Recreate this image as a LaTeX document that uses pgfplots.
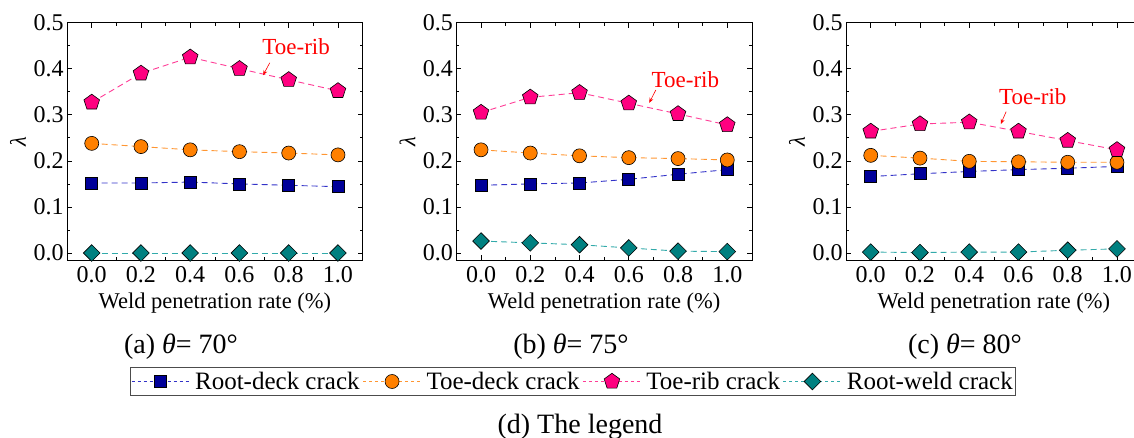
\documentclass[border=0pt]{standalone}
\usepackage{fontspec}
\setmainfont{Liberation Serif}
\usepackage{pgfplots}
\pgfplotsset{compat=1.18}
\usetikzlibrary{arrows.meta}
\definecolor{rdfill}{RGB}{0,0,153}
\definecolor{rdline}{RGB}{50,50,200}
\definecolor{tdfill}{RGB}{255,128,0}
\definecolor{tdline}{RGB}{255,150,50}
\definecolor{trfill}{RGB}{255,0,128}
\definecolor{trline}{RGB}{255,60,150}
\definecolor{rwfill}{RGB}{0,128,128}
\definecolor{rwline}{RGB}{50,170,170}
\pgfplotsset{
 panel/.style={
  scale only axis, width=295.5pt, height=237.3pt,
  xmin=-0.1,xmax=1.1,ymin=-0.0152,ymax=0.5,
  xtick={0,0.2,0.4,0.6,0.8,1.0}, ytick={0,0.1,0.2,0.3,0.4,0.5},
  minor x tick num=1, minor y tick num=1,
  tick align=inside, major tick length=5pt, minor tick length=3pt,
  tick style={black, line width=0.7pt},
  axis line style={line width=0.8pt},
  /pgf/number format/assume math mode=true,
  xticklabel style={/pgf/number format/.cd, fixed, fixed zerofill, precision=1, /tikz/.cd, yshift=-3pt},
  yticklabel style={/pgf/number format/.cd, fixed, fixed zerofill, precision=1},
  tick label style={font=\rmfamily\fontsize{24}{28}\selectfont},
  label style={font=\rmfamily\fontsize{22.5}{27}\selectfont},
  xlabel={Weld penetration rate (\%)},
  ylabel={\textit{λ}},
  xlabel style={at={(axis description cs:0.5,-0.181)}, anchor=center},
  ylabel style={at={(axis description cs:-0.166,0.5)}, anchor=center},
  every axis plot/.append style={line width=0.9pt, dash pattern=on 6pt off 4pt},
  legend image code/.code={\draw[mark repeat=2, mark phase=2, #1, dash pattern=on 3pt off 3pt] plot coordinates {(0pt,0pt) (29pt,0pt) (58pt,0pt)};},
 },
 rd/.style={color=rdline, mark=square*, mark size=6pt, mark options={solid, fill=rdfill, draw=black, line width=0.6pt}},
 td/.style={color=tdline, mark=*, mark size=7pt, mark options={solid, fill=tdfill, draw=black, line width=0.6pt}},
 tr/.style={color=trline, mark=pentagon*, mark size=8.2pt, mark options={solid, fill=trfill, draw=black, line width=0.6pt}},
 rw/.style={color=rwline, mark=square*, mark size=5.9pt, mark options={solid, rotate=45, fill=rwfill, draw=black, line width=0.6pt}},
}
\newcommand{\annot}[6]{%
 \node[red, font=\rmfamily\fontsize{23}{27}\selectfont] at (axis cs:#1,#2) {Toe-rib};
 \draw[red, line width=0.6pt, -{Stealth[length=5pt,width=4pt]}] (axis cs:#3,#4) -- (axis cs:#5,#6);}
\begin{document}
\begin{tikzpicture}
% (a)
\begin{axis}[panel, at={(67.1pt,-260pt)}, anchor=south west]
\addplot[rd] coordinates {(0,0.152) (0.2,0.152) (0.4,0.154) (0.6,0.150) (0.8,0.147) (1.0,0.144)};
\addplot[td] coordinates {(0,0.238) (0.2,0.231) (0.4,0.224) (0.6,0.220) (0.8,0.217) (1.0,0.213)};
\addplot[tr] coordinates {(0,0.327) (0.2,0.390) (0.4,0.425) (0.6,0.400) (0.8,0.376) (1.0,0.352)};
\addplot[rw] coordinates {(0,0.000) (0.2,0.000) (0.4,0.000) (0.6,0.000) (0.8,0.000) (1.0,0.000)};
\annot{0.83}{0.447}{0.723}{0.413}{0.696}{0.386}
\end{axis}
% (b)
\begin{axis}[panel, at={(456.4pt,-260pt)}, anchor=south west,
  legend columns=4,
  legend style={at={(axis description cs:0.3946,-0.512)}, anchor=center, draw=black!70, line width=0.8pt,
    font=\rmfamily\fontsize{25}{29}\selectfont, inner xsep=1pt, inner ysep=2.5pt,
    nodes={inner sep=2pt},
    /tikz/every even column/.append style={column sep=1pt},
    /tikz/every odd column/.append style={column sep=3pt}}]
\addplot[rd] coordinates {(0,0.147) (0.2,0.150) (0.4,0.152) (0.6,0.160) (0.8,0.171) (1.0,0.181)};
\addplot[td] coordinates {(0,0.224) (0.2,0.217) (0.4,0.211) (0.6,0.207) (0.8,0.205) (1.0,0.202)};
\addplot[tr] coordinates {(0,0.305) (0.2,0.338) (0.4,0.348) (0.6,0.325) (0.8,0.302) (1.0,0.278)};
\addplot[rw] coordinates {(0,0.026) (0.2,0.022) (0.4,0.018) (0.6,0.011) (0.8,0.004) (1.0,0.003)};
\legend{Root-deck crack, Toe-deck crack, Toe-rib crack, Root-weld crack}
\annot{0.83}{0.376}{0.71}{0.354}{0.683}{0.326}
\end{axis}
% (c)
\begin{axis}[panel, at={(846.1pt,-260pt)}, anchor=south west]
\addplot[rd] coordinates {(0,0.166) (0.2,0.172) (0.4,0.177) (0.6,0.181) (0.8,0.184) (1.0,0.188)};
\addplot[td] coordinates {(0,0.212) (0.2,0.206) (0.4,0.199) (0.6,0.198) (0.8,0.197) (1.0,0.197)};
\addplot[tr] coordinates {(0,0.264) (0.2,0.280) (0.4,0.284) (0.6,0.264) (0.8,0.244) (1.0,0.224)};
\addplot[rw] coordinates {(0,0.002) (0.2,0.001) (0.4,0.002) (0.6,0.002) (0.8,0.006) (1.0,0.009)};
\annot{0.658}{0.339}{0.55}{0.307}{0.528}{0.28}
\end{axis}
\node[font=\rmfamily\fontsize{28}{32}\selectfont, anchor=base] at (181pt,-353pt) {(a) \textit{θ}= 70°};
\node[font=\rmfamily\fontsize{28}{32}\selectfont, anchor=base] at (571pt,-353pt) {(b) \textit{θ}= 75°};
\node[font=\rmfamily\fontsize{28}{32}\selectfont, anchor=base] at (965pt,-353pt) {(c) \textit{θ}= 80°};
\node[font=\rmfamily\fontsize{28}{32}\selectfont, anchor=base] at (580pt,-433pt) {(d) The legend};
\pgfresetboundingbox
\useasboundingbox (0pt,0pt) rectangle (1134pt,-438pt);
\end{tikzpicture}
\end{document}
